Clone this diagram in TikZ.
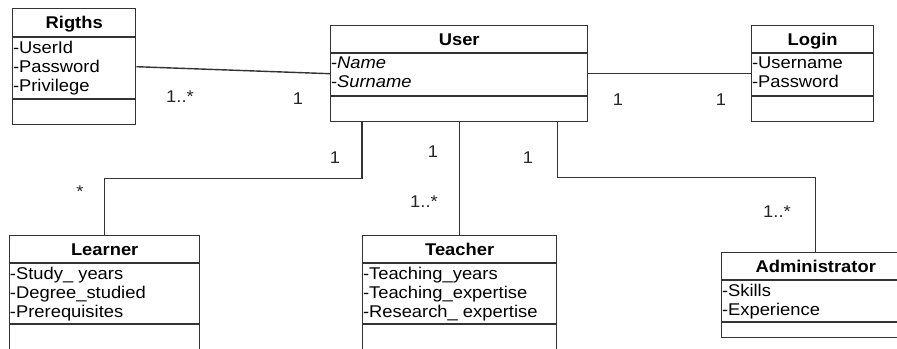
\documentclass[tikz,border=0pt]{standalone}
\usepackage{fontspec}
\setmainfont{Liberation Sans}[FakeStretch=1.08]

\begin{document}
\begin{tikzpicture}[x=0.5pt,y=-0.5pt,
        every node/.style={inner sep=0pt},
        class/.style={draw=black!80,line width=0.7pt,anchor=north west},
        ctitle/.style={font=\fontsize{8.5}{9.5}\selectfont\bfseries,text height=6.1pt,text depth=0pt},
        cattr/.style={font=\fontsize{8.5}{9.5}\selectfont,align=left,anchor=north west,inner ysep=1.8pt,inner xsep=0.3pt},
        mult/.style={font=\fontsize{8.5}{9.5}\selectfont,text=black!85},
        assoc/.style={draw=black!80,line width=0.7pt}]

    \clip (0,0) rectangle (897,348);

    % classes
    \node[class,minimum width=61.5pt,minimum height=58pt] (rigths) at (12,8) {};
    \node[ctitle] (rigthsT) at ([yshift=-7.25pt]rigths.north) {Rigths};
    \node[cattr] (rigthsA) at ([yshift=-14.5pt]rigths.north west) {-UserId\\-Password\\-Privilege};
    \draw[assoc] ([yshift=-14.5pt]rigths.north west) -- ([yshift=-14.5pt]rigths.north east);
    \draw[assoc] ([yshift=-45.5pt]rigths.north west) -- ([yshift=-45.5pt]rigths.north east);

    \node[class,minimum width=128.5pt,minimum height=48pt] (user) at (330,25) {};
    \node[ctitle] (userT) at ([yshift=-7pt]user.north) {User};
    \node[cattr] (userA) at ([yshift=-14pt]user.north west) {-\textit{Name}\\-\textit{Surname}};
    \draw[assoc] ([yshift=-14pt]user.north west) -- ([yshift=-14pt]user.north east);
    \draw[assoc] ([yshift=-35.5pt]user.north west) -- ([yshift=-35.5pt]user.north east);

    \node[class,minimum width=61pt,minimum height=48pt] (login) at (751,25) {};
    \node[ctitle] (loginT) at ([yshift=-7pt]login.north) {Login};
    \node[cattr] (loginA) at ([yshift=-14pt]login.north west) {-Username\\-Password};
    \draw[assoc] ([yshift=-14pt]login.north west) -- ([yshift=-14pt]login.north east);
    \draw[assoc] ([yshift=-35.5pt]login.north west) -- ([yshift=-35.5pt]login.north east);

    \node[class,minimum width=95pt,minimum height=57pt] (learner) at (9,235) {};
    \node[ctitle] (learnerT) at ([yshift=-7pt]learner.north) {Learner};
    \node[cattr] (learnerA) at ([yshift=-14pt]learner.north west) {-Study\_ years\\-Degree\_studied\\-Prerequisites};
    \draw[assoc] ([yshift=-14pt]learner.north west) -- ([yshift=-14pt]learner.north east);
    \draw[assoc] ([yshift=-44.5pt]learner.north west) -- ([yshift=-44.5pt]learner.north east);

    \node[class,minimum width=97pt,minimum height=57pt] (teacher) at (362,235) {};
    \node[ctitle] (teacherT) at ([yshift=-7pt]teacher.north) {Teacher};
    \node[cattr] (teacherA) at ([yshift=-14pt]teacher.north west) {-Teaching\_years\\-Teaching\_expertise\\-Research\_ expertise};
    \draw[assoc] ([yshift=-14pt]teacher.north west) -- ([yshift=-14pt]teacher.north east);
    \draw[assoc] ([yshift=-44.5pt]teacher.north west) -- ([yshift=-44.5pt]teacher.north east);

    \node[class,minimum width=94pt,minimum height=42.5pt] (admin) at (721,252) {};
    \node[ctitle] (adminT) at ([yshift=-7pt]admin.north) {Administrator};
    \node[cattr] (adminA) at ([yshift=-14pt]admin.north west) {-Skills\\-Experience};
    \draw[assoc] ([yshift=-14pt]admin.north west) -- ([yshift=-14pt]admin.north east);
    \draw[assoc] ([yshift=-35pt]admin.north west) -- ([yshift=-35pt]admin.north east);

    % associations
    \draw[assoc] (rigths.east) -- (user.west);
    \draw[assoc] (user.east) -- (login.west);
    \draw[assoc] ([xshift=16pt]user.south west) -- ++(0,56) -| (learner.north);
    \draw[assoc] (teacher.north |- user.south) -- (teacher.north);
    \draw[assoc] ([xshift=-15.5pt]user.south east) -- ++(0,55) -| (admin.north);

    % multiplicities
    \node[mult] (mRig) at (180,97) {1..*};
    \node[mult] (mUsrRig) at (298,99) {1};
    \node[mult] (mUsrLog) at (618,100) {1};
    \node[mult] (mLog) at (721,100) {1};
    \node[mult] (mLea) at (80,192) {*};
    \node[mult] (mUsrLea) at (335,158) {1};
    \node[mult] (mUsrTea) at (433,152) {1};
    \node[mult] (mTea) at (424,202) {1..*};
    \node[mult] (mUsrAdm) at (528,158) {1};
    \node[mult] (mAdm) at (777,212) {1..*};

\end{tikzpicture}
\end{document}
